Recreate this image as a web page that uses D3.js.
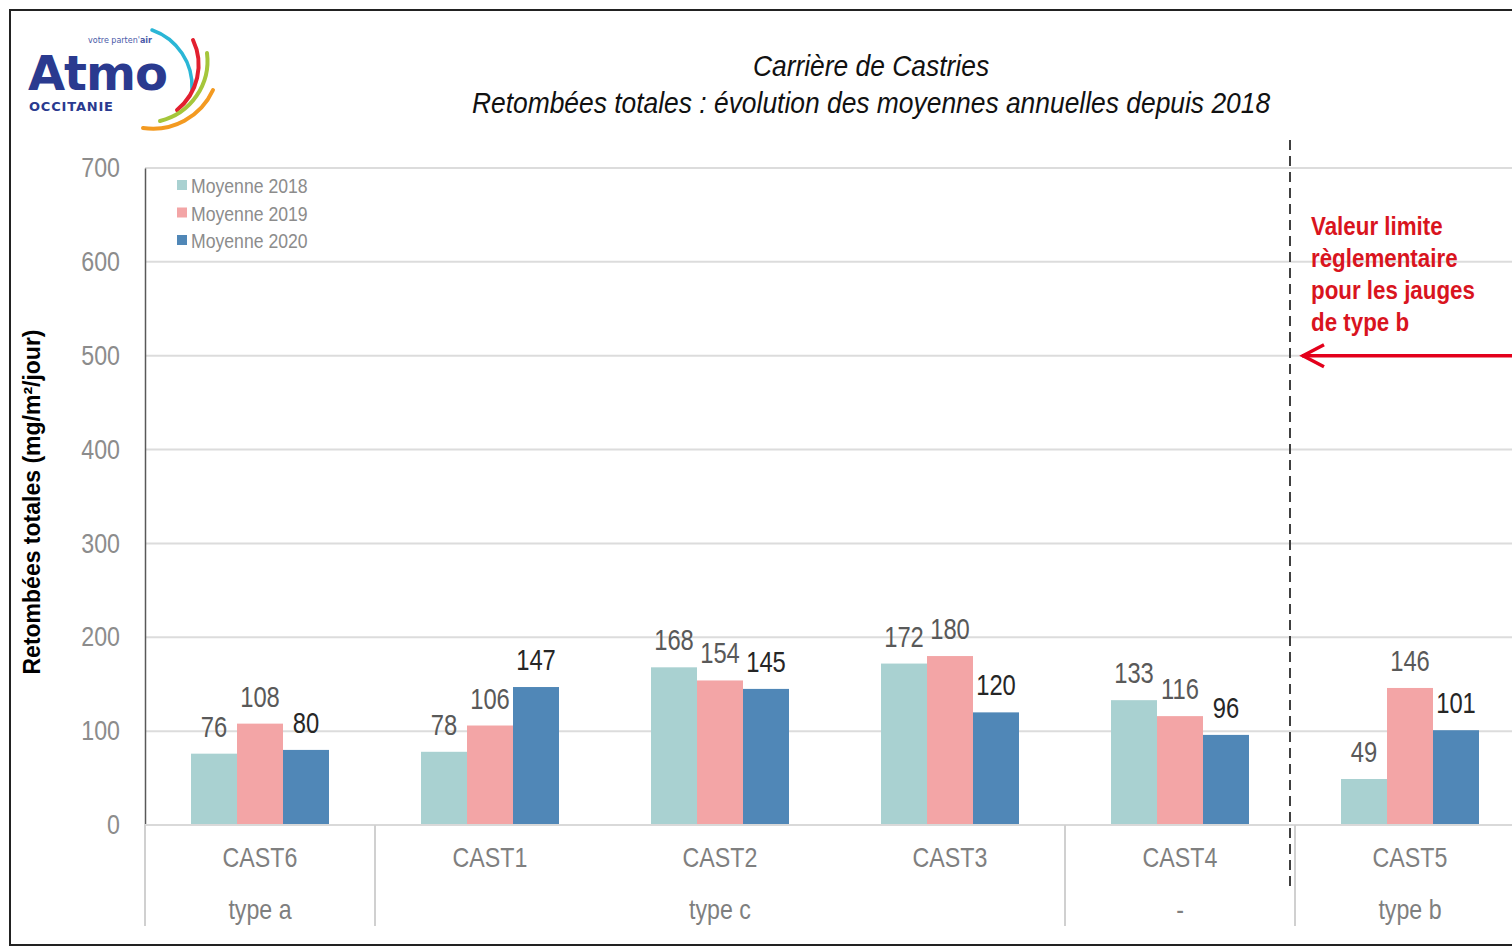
<!DOCTYPE html>
<meta charset="utf-8">
<style>
body { margin: 0; background: #fff; }
text { font-family: "Liberation Sans", Arial, sans-serif; }
</style>
<body>
<script src="https://d3js.org/d3.v7.min.js"></script>
<script>

// data
var stations = ["CAST6", "CAST1", "CAST2", "CAST3", "CAST4", "CAST5"];
var gaugeTypes = ["type a", "type c", "type c", "type c", "-", "type b"];
var series = ["Moyenne 2018", "Moyenne 2019", "Moyenne 2020"];
var values2018 = [76, 78, 168, 172, 133, 49];
var values2019 = [108, 106, 154, 180, 116, 146];
var values2020 = [80, 147, 145, 120, 96, 101];
var yTicks = [0, 100, 200, 300, 400, 500, 600, 700];
var limitTypeB = 500;

var colors = ["#a9d1d1", "#f3a5a6", "#5087b7"];
var labelColors = ["#595959", "#595959", "#262626"];
var allValues = [values2018, values2019, values2020];

var width = 1512, height = 950;

// squeeze a text horizontally (no narrow font installed)
function condense(sel, k) {
  sel.each(function() {
    var t = d3.select(this),
        x0 = +t.attr("x") || 0,
        y0 = +t.attr("y") || 0;
    t.attr("x", null).attr("y", null)
     .attr("transform", "translate(" + x0 + "," + y0 + ") scale(" + k + ",1)");
    t.selectAll("tspan").attr("x", 0);
  });
}

var svg = d3.select("body").append("svg")
    .attr("width", width)
    .attr("height", height);

// frame
svg.append("rect")
    .attr("x", 10).attr("y", 10)
    .attr("width", 1520).attr("height", 935)
    .attr("fill", "none")
    .attr("stroke", "#222")
    .attr("stroke-width", 2);

// scales
var x = d3.scaleBand().domain(stations).range([145, 1525]);
var xSub = d3.scaleBand().domain(series).range([0, x.bandwidth()]).paddingOuter(1);
var y = d3.scaleLinear().domain([0, 700]).range([825, 168]);

// gridlines
svg.append("g")
  .selectAll("line")
  .data(yTicks)
  .enter().append("line")
    .attr("x1", 145).attr("x2", 1525)
    .attr("y1", function(d) { return y(d); })
    .attr("y2", function(d) { return y(d); })
    .attr("stroke", "#dcdcdc")
    .attr("stroke-width", 2);

// y axis
var yAxis = svg.append("g")
    .attr("transform", "translate(145,0)")
    .call(d3.axisLeft(y).tickValues(yTicks).tickSize(0).tickPadding(25));
yAxis.select(".domain").attr("stroke", "#595959").attr("stroke-width", 1.5);
yAxis.selectAll("text")
    .style("font-family", "'Liberation Sans', Arial, sans-serif")
    .style("font-size", "27px")
    .attr("fill", "#8c8c8c")
    .call(condense, 0.86);

// bars
var groups = svg.selectAll(".station")
    .data(stations)
  .enter().append("g")
    .attr("class", "station")
    .attr("transform", function(d) { return "translate(" + x(d) + ",0)"; });

series.forEach(function(s, si) {
  groups.append("rect")
      .attr("x", xSub(s))
      .attr("width", xSub.bandwidth())
      .attr("y", function(d, i) { return y(allValues[si][i]); })
      .attr("height", function(d, i) { return y(0) - y(allValues[si][i]); })
      .attr("fill", colors[si]);

  groups.append("text")
      .attr("x", xSub(s) + xSub.bandwidth() / 2)
      .attr("y", function(d, i) { return y(allValues[si][i]) - 17; })
      .attr("text-anchor", "middle")
      .style("font-size", "29px")
      .attr("fill", labelColors[si])
      .text(function(d, i) { return allValues[si][i]; })
      .call(condense, 0.82);
});

// x axis baseline
svg.append("line")
    .attr("x1", 145).attr("x2", 1525)
    .attr("y1", y(0)).attr("y2", y(0))
    .attr("stroke", "#d9d9d9").attr("stroke-width", 2);

// station labels
svg.append("g").selectAll("text")
    .data(stations)
  .enter().append("text")
    .attr("x", function(d) { return x(d) + x.bandwidth() / 2; })
    .attr("y", 867)
    .attr("text-anchor", "middle")
    .style("font-size", "27px")
    .attr("fill", "#7f7f7f")
    .text(function(d) { return d; })
    .call(condense, 0.86);

// gauge type groups (second level)
var typeGroups = [];
gaugeTypes.forEach(function(t, i) {
  var last = typeGroups[typeGroups.length - 1];
  if (last && last.type === t) last.end = stations[i];
  else typeGroups.push({type: t, start: stations[i], end: stations[i]});
});

svg.append("g").selectAll("text")
    .data(typeGroups)
  .enter().append("text")
    .attr("x", function(d) { return (x(d.start) + x(d.end) + x.bandwidth()) / 2; })
    .attr("y", 919)
    .attr("text-anchor", "middle")
    .style("font-size", "27px")
    .attr("fill", "#7f7f7f")
    .text(function(d) { return d.type; })
    .call(condense, 0.86);

svg.append("g").selectAll("line")
    .data(typeGroups)
  .enter().append("line")
    .attr("x1", function(d) { return x(d.start); })
    .attr("x2", function(d) { return x(d.start); })
    .attr("y1", y(0)).attr("y2", 926)
    .attr("stroke", "#d0d0d0").attr("stroke-width", 2);

// dashed separator before type b
var xSep = x("CAST5") - 5;
svg.append("line")
    .attr("x1", xSep).attr("x2", xSep)
    .attr("y1", 140).attr("y2", 886)
    .attr("stroke", "#404040")
    .attr("stroke-width", 2)
    .attr("stroke-dasharray", "10,6");

// limit arrow
var yLim = y(limitTypeB);
svg.append("line")
    .attr("x1", xSep + 12).attr("x2", 1525)
    .attr("y1", yLim).attr("y2", yLim)
    .attr("stroke", "#e3001b").attr("stroke-width", 3.5);
svg.append("path")
    .attr("d", "M" + (xSep + 34) + "," + (yLim - 11) + " L" + (xSep + 13) + "," + yLim + " L" + (xSep + 34) + "," + (yLim + 11))
    .attr("fill", "none")
    .attr("stroke", "#e3001b").attr("stroke-width", 3.5);

var note = svg.append("text")
    .attr("x", 1311).attr("y", 235)
    .style("font-size", "26px")
    .style("font-weight", "bold")
    .attr("fill", "#d9141e");
["Valeur limite", "règlementaire", "pour les jauges", "de type b"].forEach(function(l, i) {
  note.append("tspan").attr("x", 1311).attr("dy", i ? 32 : 0).text(l);
});
note.call(condense, 0.86);

// y axis title
svg.append("text")
    .attr("transform", "translate(40,502) rotate(-90)")
    .attr("text-anchor", "middle")
    .style("font-size", "23px")
    .style("font-weight", "bold")
    .attr("fill", "#000")
    .text("Retombées totales (mg/m²/jour)");

// title
svg.append("text")
    .attr("x", 871).attr("y", 76)
    .attr("text-anchor", "middle")
    .style("font-size", "30px")
    .style("font-style", "italic")
    .attr("fill", "#111")
    .text("Carrière de Castries")
    .call(condense, 0.88);
svg.append("text")
    .attr("x", 871).attr("y", 113)
    .attr("text-anchor", "middle")
    .style("font-size", "30px")
    .style("font-style", "italic")
    .attr("fill", "#111")
    .text("Retombées totales : évolution des moyennes annuelles depuis 2018")
    .call(condense, 0.88);

// legend
var legend = svg.append("g").selectAll("g")
    .data(series)
  .enter().append("g")
    .attr("transform", function(d, i) { return "translate(177," + (185 + i * 27.5) + ")"; });
legend.append("rect")
    .attr("x", 0).attr("y", -5)
    .attr("width", 10).attr("height", 10)
    .attr("fill", function(d, i) { return colors[i]; });
legend.append("text")
    .attr("x", 14).attr("y", 8)
    .style("font-size", "21px")
    .attr("fill", "#8c8c8c")
    .text(function(d) { return d; })
    .call(condense, 0.84);

// logo
var logo = svg.append("g");
logo.append("text")
    .attr("x", 28).attr("y", 90)
    .style("font-family", "'DejaVu Sans', sans-serif")
    .style("font-size", "48px")
    .style("font-weight", "bold")
    .attr("fill", "#2a3a8f")
    .attr("textLength", 140)
    .text("Atmo");
logo.append("text")
    .attr("x", 29).attr("y", 111)
    .style("font-family", "'DejaVu Sans', sans-serif")
    .style("font-size", "13px")
    .style("font-weight", "bold")
    .attr("fill", "#2a3a8f")
    .attr("textLength", 84)
    .text("OCCITANIE");
var tag = logo.append("text")
    .attr("x", 88).attr("y", 43)
    .style("font-family", "'DejaVu Sans', sans-serif")
    .style("font-size", "8px")
    .attr("fill", "#4a5aa8");
tag.append("tspan").text("votre parten'");
tag.append("tspan").style("font-weight", "bold").text("air");

var logoArcs = [
  {d: "M152,30 A60,60 0 0 1 192,90", c: "#2ab6d6", w: 3.5},
  {d: "M193,40 A58,58 0 0 1 177,110", c: "#e2202f", w: 4},
  {d: "M207,53 A62,62 0 0 1 160,121", c: "#a5c63b", w: 4},
  {d: "M213,90 A66,66 0 0 1 143,128", c: "#f39a21", w: 4}
];
logo.selectAll("path")
    .data(logoArcs)
  .enter().append("path")
    .attr("d", function(d) { return d.d; })
    .attr("fill", "none")
    .attr("stroke-linecap", "round")
    .attr("stroke", function(d) { return d.c; })
    .attr("stroke-width", function(d) { return d.w; });

</script>
</body>
